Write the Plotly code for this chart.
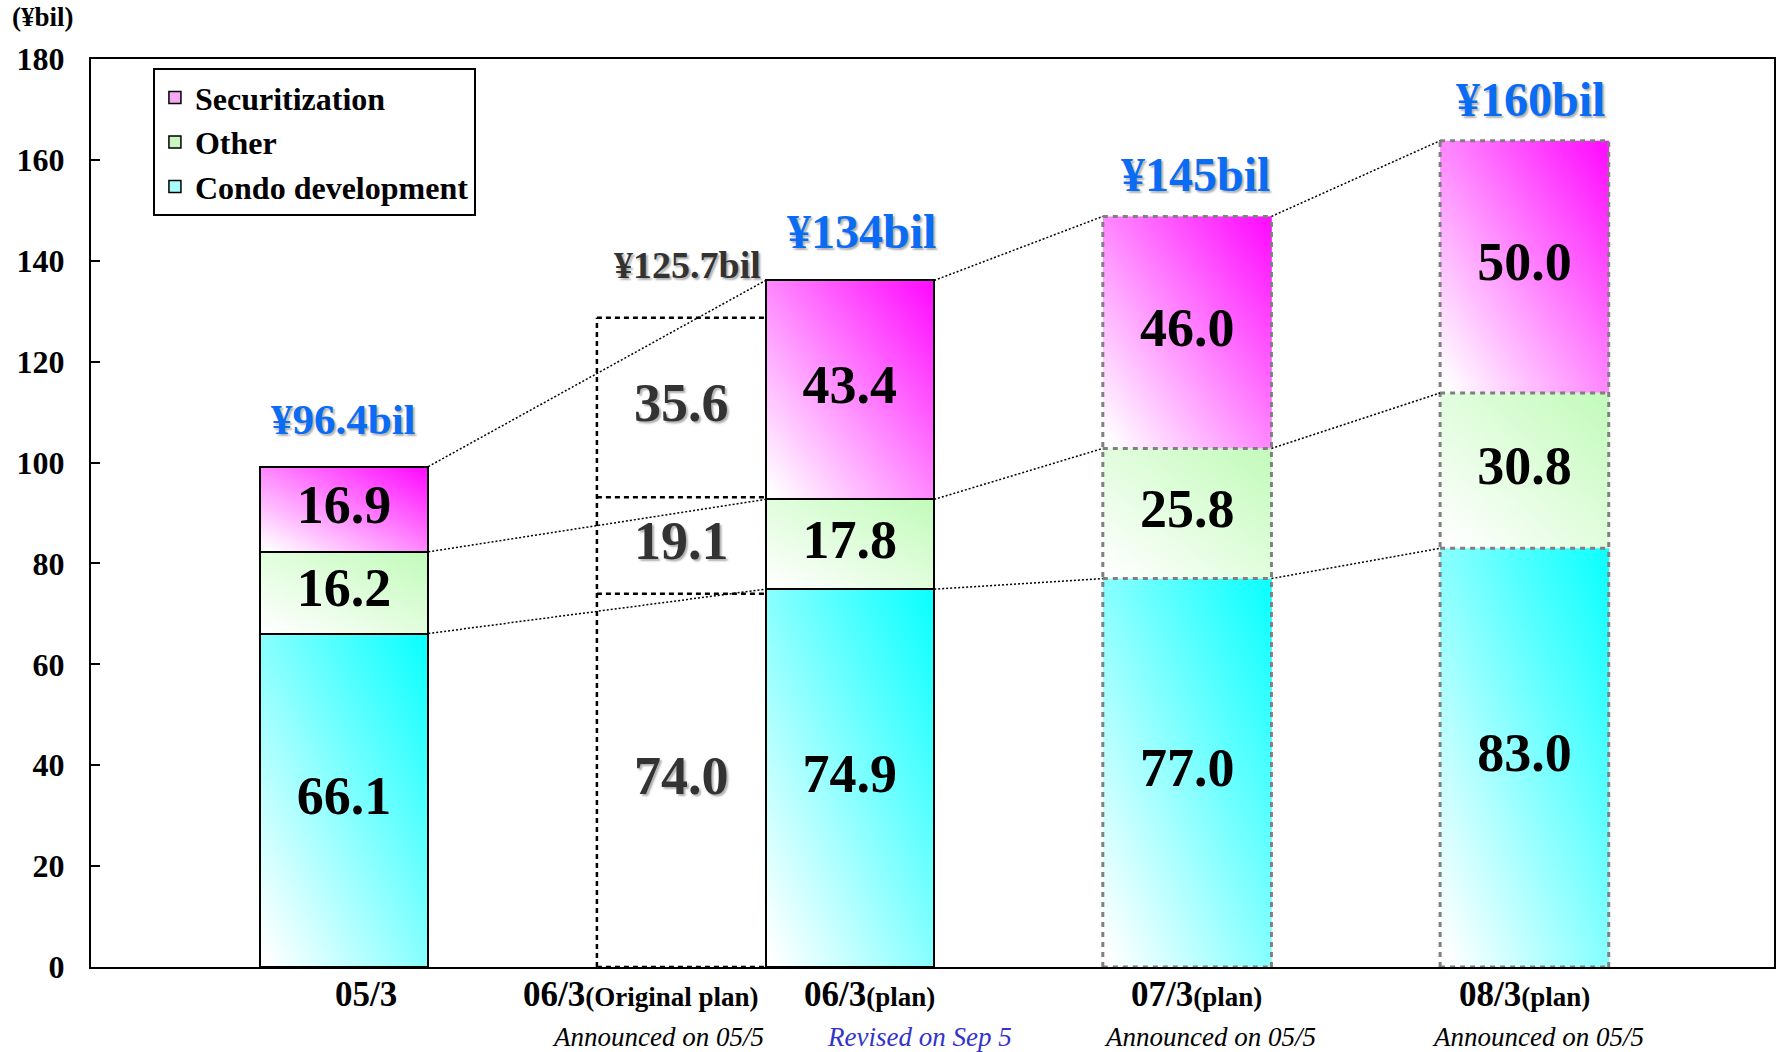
import numpy as np
import plotly.graph_objects as go

# ---------------- data ----------------
periods = ["05/3", "06/3", "06/3", "07/3", "08/3"]
period_notes = ["", "(Original plan)", "(plan)", "(plan)", "(plan)"]
announce_notes = ["", "Announced on 05/5", "Revised on Sep 5", "Announced on 05/5", "Announced on 05/5"]
condo = [66.1, 74.0, 74.9, 77.0, 83.0]
other = [16.2, 19.1, 17.8, 25.8, 30.8]
securitization = [16.9, 35.6, 43.4, 46.0, 50.0]
total_labels = ["¥96.4bil", "¥125.7bil", "¥134bil", "¥145bil", "¥160bil"]
series_names = ["Condo development", "Other", "Securitization"]
y_ticks = [0, 20, 40, 60, 80, 100, 120, 140, 160, 180]

# ---------------- layout config ----------------
slot = [1, 2, 2.5, 3.5, 4.5]          # horizontal slot of each bar
BW = 0.5                              # bar width
ORIG = 1                              # index of the "original plan" outline bar
SOLID = [0, 2]                        # bars with solid black outline
DASHED = [3, 4]                       # bars with grey dashed outline
FONT = "Liberation Serif"
sat_colors = ["#10ffff", "#c4fbbc", "#ff10ff"]
legend_colors = ["#a8fcfc", "#c8f5c0", "#f6a8f6"]

series = [condo, other, securitization]
n = len(periods)
bases = [[0.0] * n]
for s in series[:-1]:
    bases.append([b + v for b, v in zip(bases[-1], s)])
tops = [b + v for b, v in zip(bases[-1], series[-1])]

fig = go.Figure()

# gradient fills (heatmaps underneath the bars)
G = 14
for k, s in enumerate(series):
    for i in range(n):
        if i == ORIG:
            continue
        x0, x1 = slot[i] - BW / 2, slot[i] + BW / 2
        y0, y1 = bases[k][i], bases[k][i] + s[i]
        xe = np.linspace(x0, x1, G + 1)
        ye = np.linspace(y0, y1, G + 1)
        z = [[(r + c) / (2 * (G - 1)) for c in range(G)] for r in range(G)]
        fig.add_trace(go.Heatmap(
            x=xe, y=ye, z=z, zmin=0, zmax=1, zsmooth="best",
            colorscale=[[0, "#ffffff"], [1, sat_colors[k]]],
            showscale=False, hoverinfo="skip", showlegend=False))

# stacked bars (transparent, outline only on solid bars)
lw = [2 if i in SOLID else 0 for i in range(n)]
for k, s in enumerate(series):
    fig.add_trace(go.Bar(
        x=slot, y=s, width=BW, name=series_names[k], showlegend=False,
        marker=dict(color="rgba(0,0,0,0)", line=dict(color="black", width=lw)),
        hoverinfo="skip"))

# dashed outlines: each edge drawn once
def outline(i, with_right):
    x0, x1 = slot[i] - BW / 2, slot[i] + BW / 2
    xs, ys = [], []
    levels = [0.0] + [bases[k][i] + series[k][i] for k in range(3)]
    for lev in levels:
        xs += [x0, x1, None]
        ys += [lev, lev, None]
    xs += [x0, x0, None]
    ys += [0, tops[i], None]
    if with_right:
        xs += [x1, x1, None]
        ys += [0, tops[i], None]
    return xs, ys

for idxs, col, dash, w, right in [([ORIG], "black", "5px,4px", 2.5, False),
                                  (DASHED, "#808080", "5px,5px", 3, True)]:
    xs, ys = [], []
    for i in idxs:
        a, b = outline(i, right)
        xs += a
        ys += b
    fig.add_trace(go.Scatter(x=xs, y=ys, mode="lines", line=dict(color=col, width=w, dash=dash),
                             showlegend=False, hoverinfo="skip"))

# connector (series) lines
chain = [0, 2, 3, 4]
xs, ys = [], []
for a, b in zip(chain[:-1], chain[1:]):
    for lev in (bases[1], bases[2], tops):
        xs += [slot[a] + BW / 2, slot[b] - BW / 2, None]
        ys += [lev[a], lev[b], None]
fig.add_trace(go.Scatter(x=xs, y=ys, mode="lines", line=dict(color="black", width=1.5, dash="2px,2px"),
                         showlegend=False, hoverinfo="skip"))

# value labels
for group, col, shadow in [([i for i in range(n) if i != ORIG], "black", "none"),
                           ([ORIG], "#333333", "2px 2px 2px #b0b0b0")]:
    tx, ty, tt = [], [], []
    for k, s in enumerate(series):
        for i in group:
            tx.append(slot[i])
            ty.append(bases[k][i] + s[i] / 2)
            tt.append(f"{s[i]:.1f}")
    fig.add_trace(go.Scatter(x=tx, y=ty, text=tt, mode="text", textposition="middle center",
                             textfont=dict(family=FONT, size=54, color=col, weight="bold", shadow=shadow),
                             showlegend=False, hoverinfo="skip"))

# legend entries
for k in [2, 1, 0]:
    fig.add_trace(go.Bar(x=[None], y=[None], name=series_names[k], legendrank=3 - k,
                         marker=dict(color=legend_colors[k], line=dict(color="black", width=1.5))))

# total labels
tot_shift = [(0, 47), (6, 53), (12, 49), (8, 42), (6, 41)]
for i in range(n):
    is_orig = i == ORIG
    fig.add_annotation(
        x=slot[i], y=tops[i], text=total_labels[i], showarrow=False,
        xshift=tot_shift[i][0], yshift=tot_shift[i][1], yanchor="middle",
        font=dict(family=FONT, size=38 if is_orig else (43 if i == 0 else 48),
                  color="#333333" if is_orig else "#0a6cf5", weight="bold",
                  shadow="2px 2px 2px #b0b0b0"))

# x category labels
lab_shift = [22, -40, 20, 9, 0]
sub_shift = [0, -23, 70, 23, 14]
for i in range(n):
    txt = periods[i]
    if period_notes[i]:
        txt += f"<span style='font-size:27px'>{period_notes[i]}</span>"
    fig.add_annotation(x=slot[i], y=0, yref="paper", text=txt, showarrow=False,
                       xshift=lab_shift[i], yshift=-27, yanchor="middle",
                       font=dict(family=FONT, size=35, color="black", weight="bold"))
    if announce_notes[i]:
        fig.add_annotation(x=slot[i], y=0, yref="paper", text=announce_notes[i], showarrow=False,
                           xshift=sub_shift[i], yshift=-70, yanchor="middle",
                           font=dict(family=FONT, size=27, style="italic",
                                     color="#3333cc" if i == 2 else "black"))

# unit label
fig.add_annotation(x=0, y=1, xref="paper", yref="paper", text="(¥bil)", showarrow=False,
                   xanchor="left", yanchor="middle", xshift=-81, yshift=42,
                   font=dict(family=FONT, size=27, color="black", weight="bold"))

fig.update_layout(
    width=1782, height=1052,
    margin=dict(l=91, r=6, t=59, b=85),
    paper_bgcolor="white", plot_bgcolor="white",
    barmode="stack",
    showlegend=True,
    legend=dict(x=0.0368, y=0.99, xanchor="left", yanchor="top",
                bgcolor="white", bordercolor="black", borderwidth=2,
                font=dict(family=FONT, size=32, color="black", weight="bold"),
                traceorder="normal"),
    xaxis=dict(range=[0.25, 5.24], showticklabels=False, ticks="", showgrid=False, zeroline=False,
               showline=True, linecolor="black", linewidth=2, mirror=True, fixedrange=True),
    yaxis=dict(range=[0, 180], tickvals=y_ticks, ticks="inside", ticklen=9, tickwidth=2, tickcolor="black",
               showgrid=False, zeroline=False, showline=True, linecolor="black", linewidth=2, mirror=True,
               ticklabelstandoff=18,
               tickfont=dict(family=FONT, size=32, color="black", weight="bold")),
)

fig.write_html("out.html")
